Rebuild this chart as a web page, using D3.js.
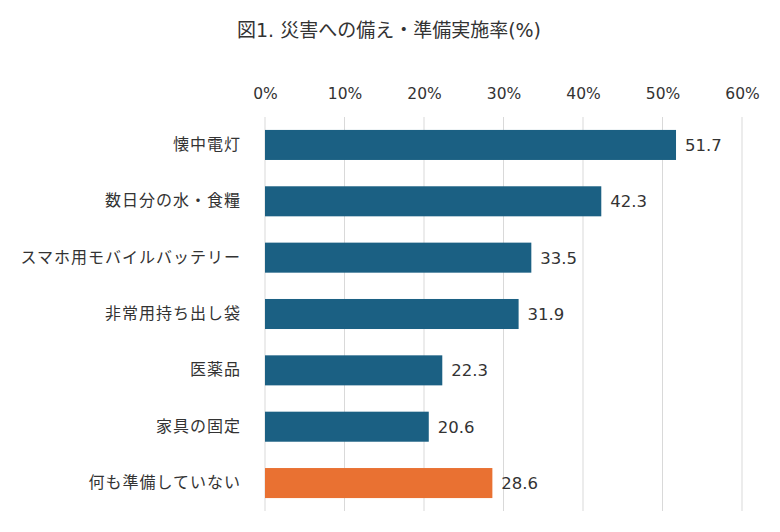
<!DOCTYPE html>
<html><head><meta charset="utf-8">
<script src="https://cdn.jsdelivr.net/npm/d3@7"></script>
<style>body{margin:0;background:#fff;} text{font-family:"DejaVu Sans","Noto Sans CJK JP",sans-serif;fill:#333;}</style>
</head><body>
<svg id="c" width="780" height="532"></svg>
<script>
const categories = ["懐中電灯","数日分の水・食糧","スマホ用モバイルバッテリー","非常用持ち出し袋","医薬品","家具の固定","何も準備していない"];
const values = [51.7,42.3,33.5,31.9,22.3,20.6,28.6];
const highlight = [false,false,false,false,false,false,true];
const tickValues = [0,10,20,30,40,50,60];
const title = "図1. 災害への備え・準備実施率(%)";

const FONT = "\"DejaVu Sans\",\"Noto Sans CJK JP\",sans-serif";
const svg = d3.select("#c");
const x = d3.scaleLinear().domain([0,60]).range([265,742]);
const y = d3.scaleBand().domain(categories).range([116.8,511.2]).paddingInner(0.467).paddingOuter(0.233);

svg.append("text").attr("x",389).attr("y",37).attr("text-anchor","middle")
  .style("font-size","19px").style("font-family",FONT).text(title);

// gridlines
svg.append("g").selectAll("line").data(tickValues).join("line")
  .attr("x1",d=>x(d)).attr("x2",d=>x(d)).attr("y1",117).attr("y2",511)
  .attr("stroke","#d9d9d9").attr("stroke-width",1);

// top axis
const ax = svg.append("g").attr("transform","translate(0,99)")
  .call(d3.axisTop(x).tickValues(tickValues).tickFormat(d=>d+"%").tickSize(0).tickPadding(0));
ax.select(".domain").remove();
ax.selectAll("text").style("font-size","15.5px").style("font-family",FONT).attr("fill","#333");

// left axis labels
const ay = svg.append("g").attr("transform","translate(241,0)")
  .call(d3.axisLeft(y).tickSize(0).tickPadding(0));
ay.select(".domain").remove();
ay.selectAll("text").style("font-size","16px").style("letter-spacing","1px")
  .style("font-family","\"Noto Sans CJK JP\",sans-serif").attr("fill","#333");

svg.append("g").selectAll("rect").data(categories).join("rect")
  .attr("x",x(0)).attr("y",d=>y(d)).attr("height",y.bandwidth())
  .attr("width",(d,i)=>x(values[i])-x(0))
  .attr("fill",(d,i)=>highlight[i]?"#e97132":"#1b6083");

svg.append("g").selectAll("text").data(categories).join("text")
  .attr("x",(d,i)=>x(values[i])+9).attr("y",d=>y(d)+y.bandwidth()/2)
  .attr("dy","0.36em").style("font-size","16.5px").style("font-family",FONT)
  .text((d,i)=>values[i].toFixed(1));
</script>
</body></html>
